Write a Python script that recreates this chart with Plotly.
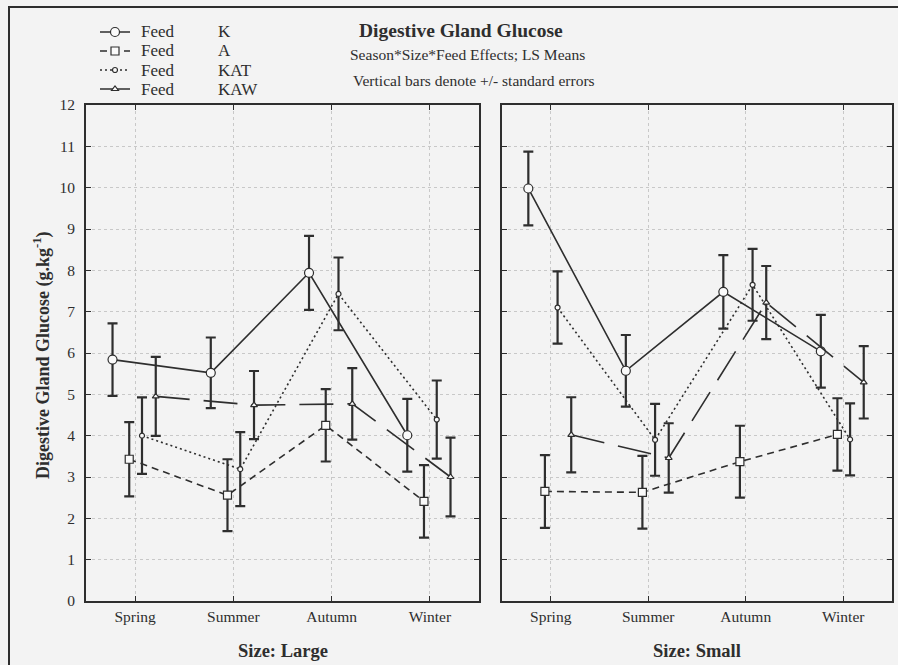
import plotly.graph_objects as go

seasons = ["Spring", "Summer", "Autumn", "Winter"]
feeds = ["K", "A", "KAT", "KAW"]

# Size: Large
large_K = [5.84, 5.52, 7.94, 4.01]
large_K_se = [0.875, 0.855, 0.895, 0.88]
large_A = [3.43, 2.56, 4.25, 2.41]
large_A_se = [0.90, 0.87, 0.875, 0.875]
large_KAT = [4.00, 3.19, 7.43, 4.39]
large_KAT_se = [0.925, 0.895, 0.88, 0.945]
large_KAW = [4.95, 4.74, 4.77, 3.00]
large_KAW_se = [0.955, 0.825, 0.865, 0.955]

# Size: Small
small_K = [9.98, 5.57, 7.48, 6.04]
small_K_se = [0.89, 0.865, 0.89, 0.88]
small_A = [2.65, 2.63, 3.37, 4.03]
small_A_se = [0.88, 0.88, 0.87, 0.875]
small_KAT = [7.10, 3.90, 7.65, 3.91]
small_KAT_se = [0.875, 0.87, 0.87, 0.87]
small_KAW = [4.02, 3.46, 7.22, 5.29]
small_KAW_se = [0.91, 0.84, 0.885, 0.875]

y_ticks = list(range(0, 13))

# ---- styling ----
W, H = 898, 665
BG = "#f3f3f3"
INK = "#2e2e2e"
GRID = "#c8c8c8"
FONT = "Liberation Serif"
offsets = {"K": -0.23, "A": -0.06, "KAT": 0.07, "KAW": 0.21}
styles = {
    "K": dict(dash="solid", symbol="circle", size=9, width=1.6),
    "A": dict(dash="7px,5px", symbol="square", size=8, width=1.6),
    "KAT": dict(dash="2px,3px", symbol="circle", size=5, width=1.6),
    "KAW": dict(dash="34px,14px", symbol="triangle-up", size=6, width=1.6),
}

data = {
    "x": {"K": large_K, "A": large_A, "KAT": large_KAT, "KAW": large_KAW},
    "x2": {"K": small_K, "A": small_A, "KAT": small_KAT, "KAW": small_KAW},
}
errs = {
    "x": {"K": large_K_se, "A": large_A_se, "KAT": large_KAT_se, "KAW": large_KAW_se},
    "x2": {"K": small_K_se, "A": small_A_se, "KAT": small_KAT_se, "KAW": small_KAW_se},
}

fig = go.Figure()
for ax, yax in (("x", "y"), ("x2", "y2")):
    for f in feeds:
        st = styles[f]
        xs = [i + offsets[f] for i in range(len(seasons))]
        fig.add_trace(go.Scatter(
            x=xs, y=data[ax][f], xaxis=ax, yaxis=yax,
            mode="lines+markers",
            name="\u00a0", legendgroup=f, showlegend=(ax == "x"),
            hovertext=["Feed " + f] * len(seasons),
            line=dict(color=INK, width=st["width"], dash=st["dash"]),
            marker=dict(symbol=st["symbol"], size=st["size"], color="#fafafa",
                        line=dict(color=INK, width=1.2)),
            error_y=dict(type="data", array=errs[ax][f], visible=True,
                         color=INK, thickness=2.2, width=5),
        ))

def xaxis_cfg(domain, anchor):
    return dict(
        domain=domain, range=[-0.5, 3.5], tickmode="array", anchor=anchor,
        tickvals=list(range(len(seasons))), ticktext=seasons, automargin=False,
        showgrid=True, gridcolor=GRID, griddash="dot", gridwidth=1,
        zeroline=False, showline=True, linecolor=INK, linewidth=2,
        mirror="allticks", ticks="inside", ticklen=5, tickcolor=INK,
        tickfont=dict(family=FONT, size=15.5, color=INK),
    )

def yaxis_cfg(labels, anchor):
    return dict(
        domain=[1 - 601 / H, 1 - 105 / H], range=[0, 12], tickvals=y_ticks,
        showticklabels=labels, anchor=anchor, automargin=False,
        ticklabelstandoff=6,
        showgrid=True, gridcolor=GRID, griddash="dot", gridwidth=1,
        zeroline=False, showline=True, linecolor=INK, linewidth=2,
        mirror="allticks", ticks="inside", ticklen=5, tickcolor=INK,
        tickfont=dict(family=FONT, size=15.5, color=INK),
    )

fig.update_layout(
    template="none",
    width=W, height=H, margin=dict(l=0, r=0, t=0, b=0, pad=0, autoexpand=False),
    paper_bgcolor=BG, plot_bgcolor=BG,
    font=dict(family=FONT, color=INK),
    xaxis=xaxis_cfg([86 / W, 479 / W], "y"),
    xaxis2=xaxis_cfg([502 / W, 892 / W], "y2"),
    yaxis=yaxis_cfg(True, "x"),
    yaxis2=yaxis_cfg(False, "x2"),
    legend=dict(x=95 / W, y=1 - 17.5 / H, xanchor="left", yanchor="top",
                bgcolor="rgba(0,0,0,0)", borderwidth=0,
                font=dict(family=FONT, size=12, color=INK),
                tracegroupgap=0, itemwidth=30),
    showlegend=True,
)

# legend texts
legend_rows = [32, 51, 70, 89]
for f, yy in zip(feeds, legend_rows):
    fig.add_annotation(text="Feed", x=139 / W, y=1 - yy / H, xref="paper", yref="paper",
                       showarrow=False, xanchor="left", yanchor="middle",
                       font=dict(family=FONT, size=17, color=INK))
    fig.add_annotation(text=f, x=216 / W, y=1 - yy / H, xref="paper", yref="paper",
                       showarrow=False, xanchor="left", yanchor="middle",
                       font=dict(family=FONT, size=17, color=INK))

ann = [
    dict(text="<b>Digestive Gland Glucose</b>", x=461 / W, y=1 - 30 / H, size=19.5),
    dict(text="Season*Size*Feed Effects; LS Means", x=468 / W, y=1 - 55 / H, size=15.5),
    dict(text="Vertical bars denote +/- standard errors", x=474 / W, y=1 - 80 / H, size=15.5),
    dict(text="<b>Size: Large</b>", x=283 / W, y=1 - 651 / H, size=18.5),
    dict(text="<b>Size: Small</b>", x=697 / W, y=1 - 651 / H, size=18.5),
]
for a in ann:
    fig.add_annotation(text=a["text"], x=a["x"], y=a["y"], xref="paper", yref="paper",
                       showarrow=False, xanchor="center", yanchor="middle",
                       font=dict(family=FONT, size=a["size"], color=INK))
fig.add_annotation(text="<b>Digestive Gland Glucose (g.kg<sup>-1</sup>)</b>",
                   x=42 / W, y=1 - 355 / H, xref="paper", yref="paper", showarrow=False,
                   xanchor="center", yanchor="middle",
                   textangle=-90, font=dict(family=FONT, size=18, color=INK))

# outer frame of the original figure
fig.add_shape(type="rect", xref="paper", yref="paper",
              x0=9 / W, x1=1.05, y0=-0.05, y1=1 - 7 / H,
              line=dict(color=INK, width=2))

fig.write_html("out.html", config={"displayModeBar": False},
               post_script="document.body.style.margin='0';")
